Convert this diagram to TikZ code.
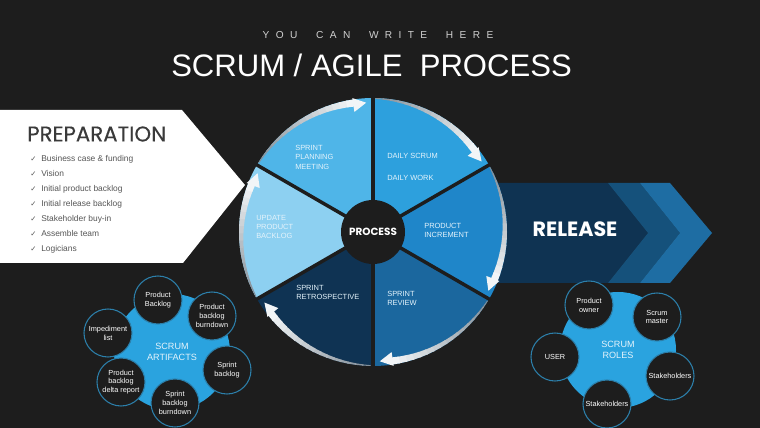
\documentclass[tikz,border=0pt]{standalone}
\usepackage{fontspec}
\setmainfont{Liberation Sans}
\newfontfamily\popp{Poppins}
\newfontfamily\poppm[FakeBold=0.3]{Poppins}
\newfontfamily\djv{DejaVu Sans}
\usetikzlibrary{arrows.meta}
\definecolor{bg}{HTML}{1D1D1D}
\definecolor{segA}{HTML}{4FB5E8}
\definecolor{segB}{HTML}{2DA0DD}
\definecolor{segC}{HTML}{1F86C9}
\definecolor{segD}{HTML}{1B679E}
\definecolor{segE}{HTML}{0F3353}
\definecolor{segF}{HTML}{8DD0F1}
\definecolor{relA}{HTML}{0F3352}
\definecolor{relB}{HTML}{15517B}
\definecolor{relC}{HTML}{1E6DA3}
\definecolor{bubble}{HTML}{2AA3DF}
\definecolor{ringc}{HTML}{2C7FAA}
\definecolor{rimdark}{HTML}{7A8690}
\definecolor{rimlight}{HTML}{F2F5F7}
\definecolor{prepgray}{HTML}{3A3A3A}
\definecolor{listgray}{HTML}{555555}
\definecolor{segtext}{HTML}{E4F3FB}
\definecolor{subgray}{HTML}{D0D0D0}
\newcommand\lsp{\kern4.8pt}
\newcommand\wsp{\kern14pt}
% tapered rim arrow: #1 start angle, #2 tip angle (clockwise)
\newcommand\rimarrow[2]{%
  \foreach \k in {0,...,15}{%
    \pgfmathsetmacro\aa{(#1)-((#1)-(#2)-5.5)*\k/16}%
    \pgfmathsetmacro\ab{(#1)-((#1)-(#2)-5.5)*(\k+1.2)/16}%
    \pgfmathsetmacro\ra{133.8-0.6-6.4*\k/16}%
    \pgfmathsetmacro\rb{133.8-0.6-6.4*(\k+1)/16}%
    \pgfmathtruncatemacro\pc{8+92*\k/15}%
    \fill[rimlight!\pc!rimdark, shift={(c)}] (\aa:134) -- (\ab:134) -- (\ab:\rb) -- (\aa:\ra) -- cycle;
  }%
  \fill[rimlight, shift={(c)}] (#2:129.5) -- ({(#2)+5.8}:135.5) -- ({(#2)+5.8}:121.5) -- cycle;
}
\begin{document}
\begin{tikzpicture}[x=0.75pt,y=0.75pt,
 segtxt/.style={text=segtext, font=\fontsize{5.6}{7.1}\selectfont, align=left, anchor=west, inner sep=0pt},
 small/.style={circle, fill=bg, draw=ringc, line width=0.8pt, minimum size=36pt, inner sep=0pt, text=white, font=\fontsize{5.5}{6.6}\selectfont, align=center},
 bigbub/.style={circle, fill=bubble, minimum size=87pt, inner sep=0pt, text=segtext, font=\fontsize{6.8}{8}\selectfont, align=center},
 item/.style={anchor=west, text=listgray, font=\fontsize{6.3}{7.5}\selectfont, inner sep=0pt},
 chk/.style={anchor=west, text=listgray, font=\djv\fontsize{5.5}{6}\selectfont, inner sep=0pt},
 sep/.style={draw=bg, line width=2.6pt},
]
\fill[bg] (0,0) rectangle (760,428);
\useasboundingbox (0,0) rectangle (760,428);

% titles
\node[text=subgray, font=\fontsize{7.6}{9}\selectfont, inner sep=0pt] (sub) at (378,393)
 {Y\lsp O\lsp U\wsp C\lsp A\lsp N\wsp W\lsp R\lsp I\lsp T\lsp E\wsp H\lsp E\lsp R\lsp E};
\node[text=white, font=\fontsize{23.3}{26}\selectfont, inner sep=0pt] (title) at (371.5,363) {SCRUM / AGILE \ PROCESS};

% preparation
\fill[white] (0,318) -- (182,318) -- (245,243) -- (183,165) -- (0,165) -- cycle;
\node[anchor=west, text=prepgray, font=\poppm\fontsize{16}{18}\selectfont, inner sep=0pt] (prep) at (27,294) {PREPARATION};
\foreach \t [count=\i] in {Business case \& funding, Vision, Initial product backlog, Initial release backlog, Stakeholder buy-in, Assemble team, Logicians}{
  \node[chk] (c\i) at (30,284-15*\i) {✓};
  \node[item] (i\i) at (41,284-15*\i) {\t};
}

% release
\fill[relA] (450,245) -- (608,245) -- (648,195) -- (608,145) -- (450,145) -- cycle;
\fill[relB] (608,245) -- (640,245) -- (680,195) -- (640,145) -- (608,145) -- (648,195) -- cycle;
\fill[relC] (640,245) -- (670,245) -- (712,195) -- (670,145) -- (640,145) -- (680,195) -- cycle;
\node[text=white, font=\popp\bfseries\fontsize{15.5}{17}\selectfont, inner sep=0pt] (release) at (575,199) {RELEASE};

% wheel
\coordinate (c) at (373,196);
\fill[segA] (c) -- ++(90:134) arc[start angle=90,end angle=150,radius=134] -- cycle;
\fill[segB] (c) -- ++(30:134) arc[start angle=30,end angle=90,radius=134] -- cycle;
\fill[segC] (c) -- ++(-30:134) arc[start angle=-30,end angle=30,radius=134] -- cycle;
\fill[segD] (c) -- ++(-90:134) arc[start angle=-90,end angle=-30,radius=134] -- cycle;
\fill[segE] (c) -- ++(210:134) arc[start angle=210,end angle=270,radius=134] -- cycle;
\fill[segF] (c) -- ++(150:134) arc[start angle=150,end angle=210,radius=134] -- cycle;
\rimarrow{149}{93}
\rimarrow{89}{33}
\rimarrow{29}{-27}
\rimarrow{-31}{-87}
\rimarrow{-91}{-147}
\rimarrow{-151}{-207}
\foreach \a in {90,30,-30,-90,-150,150} \draw[sep] (c) -- ++(\a:134.5);
\node[circle, fill=bg, minimum size=48pt, inner sep=0pt, text=white, font=\popp\bfseries\fontsize{7.8}{9}\selectfont] (process) at (c) {PROCESS};

\node[segtxt] (s1) at (295,271) {SPRINT\\PLANNING\\MEETING};
\node[segtxt] (s2) at (387,272) {DAILY SCRUM};
\node[segtxt] (s2b) at (387,250) {DAILY WORK};
\node[segtxt] (s3) at (424,197.5) {PRODUCT\\INCREMENT};
\node[segtxt] (s4) at (387,129.5) {SPRINT\\REVIEW};
\node[segtxt] (s5) at (296,135.5) {SPRINT\\RETROSPECTIVE};
\node[segtxt] (s6) at (256,201) {UPDATE\\PRODUCT\\BACKLOG};

% artifacts
\node[bigbub] (art) at (172,76) {SCRUM\\ARTIFACTS};
\node[small] (a1) at (158,128) {Product\\Backlog};
\node[small] (a2) at (212,112) {Product\\backlog\\burndown};
\node[small] (a3) at (108,95) {Impediment\\list};
\node[small] (a4) at (227,58) {Sprint\\backlog};
\node[small] (a5) at (121,46) {Product\\backlog\\delta report};
\node[small] (a6) at (175,25) {Sprint\\backlog\\burndown};

% roles
\node[bigbub] (roles) at (618,78) {SCRUM\\ROLES};
\node[small] (r1) at (589,123) {Product\\owner};
\node[small] (r2) at (657,111) {Scrum\\master};
\node[small] (r3) at (555,71) {USER};
\node[small] (r4) at (670,52) {Stakeholders};
\node[small] (r5) at (607,24) {Stakeholders};
\end{tikzpicture}
\end{document}
